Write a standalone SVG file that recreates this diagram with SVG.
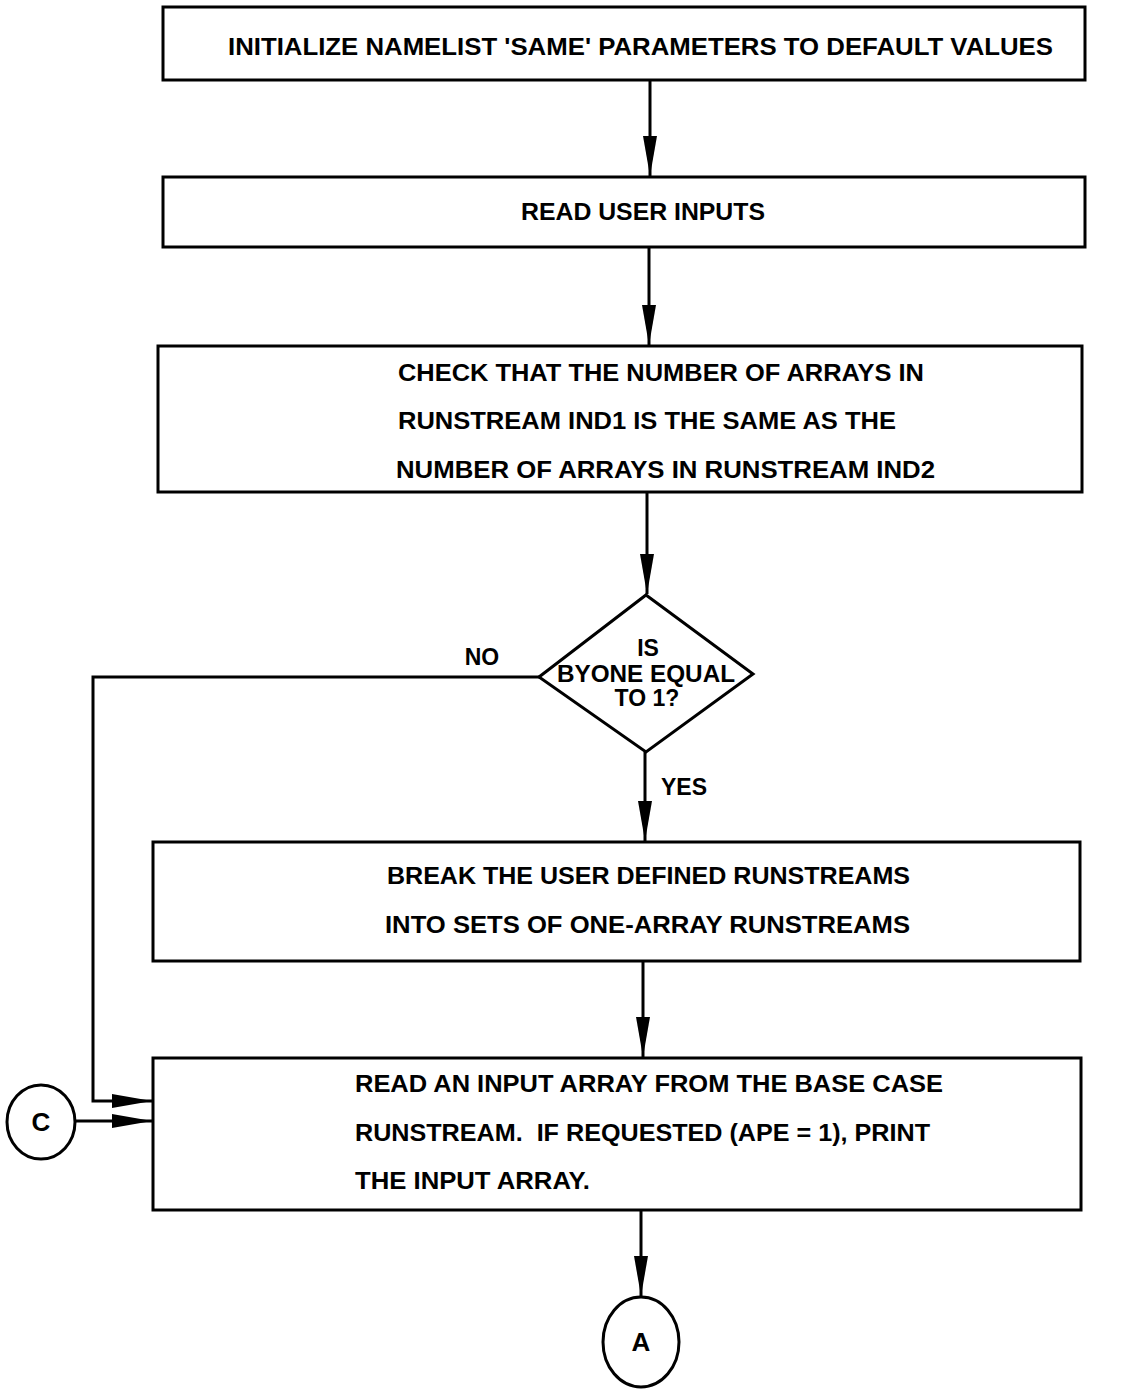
<svg xmlns="http://www.w3.org/2000/svg" width="1139" height="1395" viewBox="0 0 1139 1395">
<defs>
<style>
.box{fill:#fff;stroke:#000;stroke-width:3}
.ln{fill:none;stroke:#000;stroke-width:3}
.t{font-family:"Liberation Sans",Arial,sans-serif;font-weight:bold;font-size:23px;fill:#000}
.c{text-anchor:middle}
.big{font-size:26px}
</style>
<marker id="ah" markerUnits="userSpaceOnUse" markerWidth="40" markerHeight="16" viewBox="0 0 40 16" refX="40" refY="8" orient="auto">
<path d="M0,1 L40,8 L0,15 Z" fill="#000"/>
</marker>
</defs>
<rect width="1139" height="1395" fill="#fff"/>
<g id="connectors">
<line class="ln" x1="650" y1="80" x2="650" y2="176" marker-end="url(#ah)"/>
<line class="ln" x1="649" y1="247" x2="649" y2="345" marker-end="url(#ah)"/>
<line class="ln" x1="647" y1="492" x2="647" y2="594" marker-end="url(#ah)"/>
<line class="ln" x1="645" y1="752" x2="645" y2="841" marker-end="url(#ah)"/>
<line class="ln" x1="643" y1="961" x2="643" y2="1057" marker-end="url(#ah)"/>
<line class="ln" x1="641" y1="1210" x2="641" y2="1296" marker-end="url(#ah)"/>
<polyline class="ln" points="539,677 93,677 93,1101 152,1101" marker-end="url(#ah)"/>
<line class="ln" x1="75" y1="1121" x2="152" y2="1121" marker-end="url(#ah)"/>
<text class="t c" x="482" y="665">NO</text>
<text class="t" x="661" y="795">YES</text>
</g>
<g id="n1">
<rect class="box" x="163" y="7" width="922" height="73"/>
<text class="t" x="228" y="55" textLength="825" lengthAdjust="spacingAndGlyphs">INITIALIZE NAMELIST 'SAME' PARAMETERS TO DEFAULT VALUES</text>
</g>
<g id="n2">
<rect class="box" x="163" y="177" width="922" height="70"/>
<text class="t" x="521" y="220" textLength="244" lengthAdjust="spacingAndGlyphs">READ USER INPUTS</text>
</g>
<g id="n3">
<rect class="box" x="158" y="346" width="924" height="146"/>
<text class="t" x="398" y="381" textLength="526" lengthAdjust="spacingAndGlyphs">CHECK THAT THE NUMBER OF ARRAYS IN</text>
<text class="t" x="398" y="429" textLength="498" lengthAdjust="spacingAndGlyphs">RUNSTREAM IND1 IS THE SAME AS THE</text>
<text class="t" x="396" y="478" textLength="539" lengthAdjust="spacingAndGlyphs">NUMBER OF ARRAYS IN RUNSTREAM IND2</text>
</g>
<g id="n4">
<polygon class="box" points="646,595 753,674 646,752 539,677"/>
<text class="t c" x="648" y="656">IS</text>
<text class="t" x="557" y="682" textLength="178" lengthAdjust="spacingAndGlyphs">BYONE EQUAL</text>
<text class="t c" x="647" y="706">TO 1?</text>
</g>
<g id="n5">
<rect class="box" x="153" y="842" width="927" height="119"/>
<text class="t" x="387" y="884" textLength="523" lengthAdjust="spacingAndGlyphs">BREAK THE USER DEFINED RUNSTREAMS</text>
<text class="t" x="385" y="933" textLength="525" lengthAdjust="spacingAndGlyphs">INTO SETS OF ONE-ARRAY RUNSTREAMS</text>
</g>
<g id="n6">
<rect class="box" x="153" y="1058" width="928" height="152"/>
<text class="t" x="355" y="1092" textLength="588" lengthAdjust="spacingAndGlyphs">READ AN INPUT ARRAY FROM THE BASE CASE</text>
<text class="t" x="355" y="1141" textLength="575" lengthAdjust="spacingAndGlyphs" xml:space="preserve">RUNSTREAM.  IF REQUESTED (APE = 1), PRINT</text>
<text class="t" x="355" y="1189" textLength="235" lengthAdjust="spacingAndGlyphs">THE INPUT ARRAY.</text>
</g>
<g id="nC">
<ellipse class="box" cx="41" cy="1122" rx="34" ry="37"/>
<text class="t c big" x="41" y="1131">C</text>
</g>
<g id="nA">
<ellipse class="box" cx="641" cy="1342" rx="38" ry="45"/>
<text class="t c big" x="641" y="1351">A</text>
</g>
</svg>
